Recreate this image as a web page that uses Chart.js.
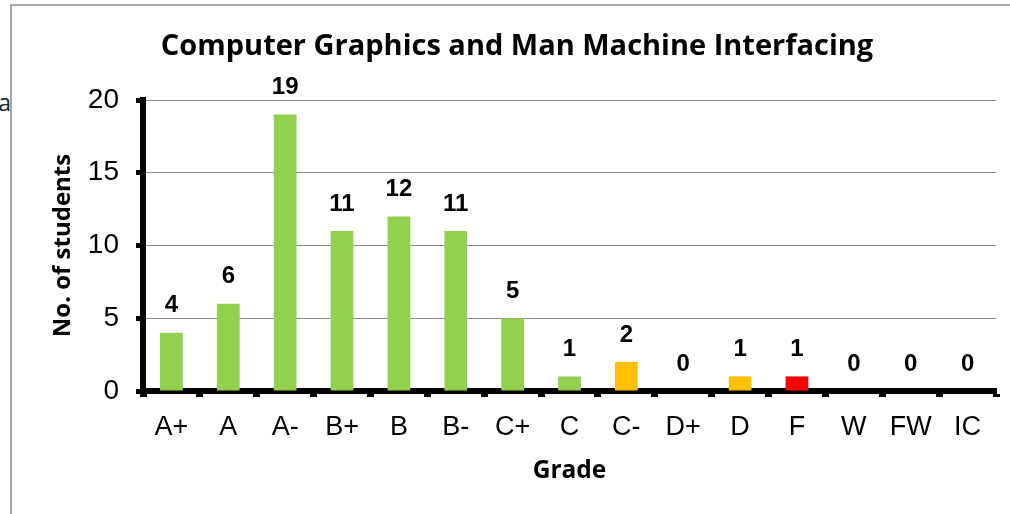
<!DOCTYPE html>
<html>
<head>
<meta charset="utf-8">
<script src="https://cdn.jsdelivr.net/npm/chart.js@4"></script>
<style>
  html, body { margin: 0; padding: 0; background: #fff; overflow: hidden; }
  #wrap { position: relative; width: 1010px; height: 514px; }
  #frame { position: absolute; left: 10px; top: 4px; width: 1100px; height: 600px;
           border: 2px solid #a6a6a6; box-sizing: border-box; }
  #stray { position: absolute; right: 999px; top: 86px; font: 23px "Open Sans", sans-serif; color: #222; white-space: nowrap; }
  canvas { position: absolute; left: 0; top: 0; }
</style>
</head>
<body>
<div id="wrap">
  <span id="stray">Interfa</span>
  <div id="frame"></div>
  <canvas id="gradeChart" width="1010" height="514"></canvas>
</div>
<script>
const chartTitle = 'Computer Graphics and Man Machine Interfacing';
const grades = ['A+', 'A', 'A-', 'B+', 'B', 'B-', 'C+', 'C', 'C-', 'D+', 'D', 'F', 'W', 'FW', 'IC'];
const students = [4, 6, 19, 11, 12, 11, 5, 1, 2, 0, 1, 1, 0, 0, 0];
const barColors = ['#92D050', '#92D050', '#92D050', '#92D050', '#92D050', '#92D050', '#92D050',
                   '#92D050', '#FFC000', '#FFC000', '#FFC000', '#FF0000', '#92D050', '#92D050', '#92D050'];
const yTicks = [0, 5, 10, 15, 20];

// value labels above each bar + title (title sits a bit right of the canvas centre in the original)
const valueLabels = {
    id: 'valueLabels',
    afterDatasetsDraw(chart) {
        const ctx = chart.ctx;
        const meta = chart.getDatasetMeta(0);
        ctx.save();
        ctx.font = 'bold 24px "Liberation Sans", Arial, sans-serif';
        ctx.fillStyle = '#000';
        ctx.textAlign = 'center';
        ctx.textBaseline = 'middle';
        meta.data.forEach((bar, i) => {
            ctx.fillText(String(students[i]), bar.x, bar.y - 27);
        });
        ctx.font = 'bold 29px "Open Sans", sans-serif';
        ctx.fillText(chartTitle, 517, 47);
        ctx.restore();
    }
};

const ctx = document.getElementById('gradeChart').getContext('2d');

new Chart(ctx, {
    type: 'bar',
    data: {
        labels: grades,
        datasets: [{
            data: students,
            backgroundColor: barColors,
            categoryPercentage: 1,
            barPercentage: 0.4
        }]
    },
    options: {
        responsive: false,
        animation: false,
        layout: { padding: { left: 0, right: 14, top: 100, bottom: 0 } },
        plugins: {
            legend: { display: false },
            tooltip: { enabled: false },
            title: { display: false }
        },
        scales: {
            y: {
                min: 0,
                max: 20,
                afterBuildTicks: s => { s.ticks = yTicks.map(v => ({ value: v })); },
                afterFit: s => { s.width = 143; },
                ticks: {
                    color: '#000',
                    padding: 17,
                    font: { family: '"Liberation Sans", Arial, sans-serif', size: 28 }
                },
                grid: {
                    color: '#8c8c8c',
                    lineWidth: 1,
                    tickColor: '#000',
                    tickWidth: 5,
                    tickLength: 7
                },
                border: { color: '#000', width: 6 },
                title: {
                    display: true,
                    text: 'No. of students',
                    color: '#000',
                    font: { family: '"Open Sans", sans-serif', size: 24, weight: 'bold' },
                    padding: { top: 49, bottom: 0 }
                }
            },
            x: {
                offset: true,
                afterFit: s => { s.height = 123; },
                ticks: {
                    color: '#000',
                    padding: 14,
                    font: { family: '"Liberation Sans", Arial, sans-serif', size: 27 }
                },
                grid: {
                    offset: true,
                    drawOnChartArea: false,
                    tickColor: '#000',
                    tickWidth: 7,
                    tickLength: 6
                },
                border: { color: '#000', width: 6 },
                title: {
                    display: true,
                    text: 'Grade',
                    color: '#000',
                    font: { family: '"Open Sans", sans-serif', size: 24.5, weight: 'bold' },
                    padding: { top: 14, bottom: 28 }
                }
            }
        }
    },
    plugins: [valueLabels]
});
</script>
</body>
</html>
